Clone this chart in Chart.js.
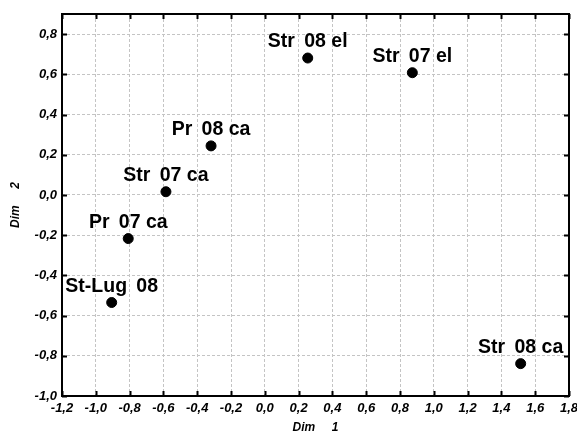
<!DOCTYPE html>
<html>
<head>
<meta charset="utf-8">
<script src="https://cdn.jsdelivr.net/npm/chart.js@4/dist/chart.umd.min.js"></script>
<style>
  html, body { margin: 0; padding: 0; background: #fff; }
  #wrap { width: 577px; height: 435px; }
</style>
</head>
<body>
<div id="wrap"><canvas id="chart"></canvas></div>
<script>
// point names
const names = ['Str 08 el', 'Str 07 el', 'Pr 08 ca', 'Str 07 ca', 'Pr 07 ca', 'St-Lug 08', 'Str 08 ca'];
const dim1 = [0.254, 0.873, -0.318, -0.585, -0.808, -0.906, 1.514];
const dim2 = [0.681, 0.608, 0.244, 0.016, -0.217, -0.535, -0.839];

const xTicks = [-1.2, -1.0, -0.8, -0.6, -0.4, -0.2, 0.0, 0.2, 0.4, 0.6, 0.8, 1.0, 1.2, 1.4, 1.6, 1.8];
const yTicks = [-1.0, -0.8, -0.6, -0.4, -0.2, 0.0, 0.2, 0.4, 0.6, 0.8];

const FONT = '"Liberation Sans", Arial, sans-serif';

function fmtComma(v) {
  if (Math.abs(v) < 1e-9) v = 0;
  return v.toFixed(1).replace('.', ',');
}

// frame round the plot with little inward ticks
const framePlugin = {
  id: 'frame',
  afterDatasetsDraw(chart) {
    const { ctx, chartArea: a, scales } = chart;
    ctx.save();
    ctx.strokeStyle = '#000';
    ctx.lineWidth = 2;
    ctx.strokeRect(a.left, a.top, a.right - a.left, a.bottom - a.top);
    const len = 5;
    ctx.beginPath();
    for (const v of xTicks) {
      const x = Math.round(scales.x.getPixelForValue(v)) + 0.5;
      ctx.moveTo(x, a.top); ctx.lineTo(x, a.top + len);
      ctx.moveTo(x, a.bottom); ctx.lineTo(x, a.bottom - len);
    }
    for (const v of yTicks) {
      const y = Math.round(scales.y.getPixelForValue(v)) + 0.5;
      ctx.moveTo(a.left, y); ctx.lineTo(a.left + len, y);
      ctx.moveTo(a.right, y); ctx.lineTo(a.right - len, y);
    }
    ctx.stroke();
    ctx.restore();
  }
};

// names written above each point (the first gap is a bit wider in the original)
const namePlugin = {
  id: 'names',
  afterDraw(chart) {
    const { ctx } = chart;
    const meta = chart.getDatasetMeta(0);
    ctx.save();
    ctx.fillStyle = '#000';
    ctx.font = 'bold 19.5px ' + FONT;
    ctx.textAlign = 'center';
    ctx.textBaseline = 'alphabetic';
    meta.data.forEach((pt, i) => {
      ctx.fillText(names[i].replace(' ', '\u2009 '), pt.x, pt.y - 11);
    });
    ctx.restore();
  }
};

const tickFont = { family: FONT, size: 13, weight: 'bold', style: 'italic' };
const titleFont = { family: FONT, size: 12, weight: 'bold', style: 'italic' };

new Chart(document.getElementById('chart'), {
  type: 'scatter',
  data: {
    datasets: [{
      data: dim1.map((x, i) => ({ x, y: dim2[i] })),
      backgroundColor: '#000',
      borderColor: '#000',
      pointRadius: 5,
      pointHoverRadius: 5
    }]
  },
  options: {
    responsive: true,
    maintainAspectRatio: false,
    animation: false,
    events: [],
    layout: { padding: { top: 14, right: 8, left: 0, bottom: 0 } },
    plugins: {
      legend: { display: false },
      tooltip: { enabled: false }
    },
    scales: {
      x: {
        type: 'linear',
        min: -1.2,
        max: 1.8,
        afterBuildTicks: s => { s.ticks = xTicks.map(v => ({ value: v })); },
        afterFit: s => { s.height = 39; s.paddingLeft = 0; s.paddingRight = 0; },
        grid: { color: '#c4c4c4', lineWidth: 1, drawTicks: false },
        border: { display: false, dash: [3, 2] },
        ticks: {
          color: '#000',
          font: tickFont,
          padding: 5,
          maxRotation: 0,
          autoSkip: false,
          callback: v => fmtComma(v)
        },
        title: {
          display: true,
          text: 'Dim     1',
          color: '#000',
          font: titleFont,
          padding: { top: 0, bottom: 0 }
        }
      },
      y: {
        type: 'linear',
        min: -1.0,
        max: 0.9,
        afterBuildTicks: s => { s.ticks = yTicks.map(v => ({ value: v })); },
        afterFit: s => { s.width = 62; s.paddingTop = 0; s.paddingBottom = 0; },
        grid: { color: '#c4c4c4', lineWidth: 1, drawTicks: false },
        border: { display: false, dash: [3, 2] },
        ticks: {
          color: '#000',
          font: tickFont,
          padding: 5,
          autoSkip: false,
          callback: v => fmtComma(v)
        },
        title: {
          display: true,
          text: 'Dim     2',
          color: '#000',
          font: titleFont,
          padding: { top: 8, bottom: 0 }
        }
      }
    }
  },
  plugins: [framePlugin, namePlugin]
});
</script>
</body>
</html>
